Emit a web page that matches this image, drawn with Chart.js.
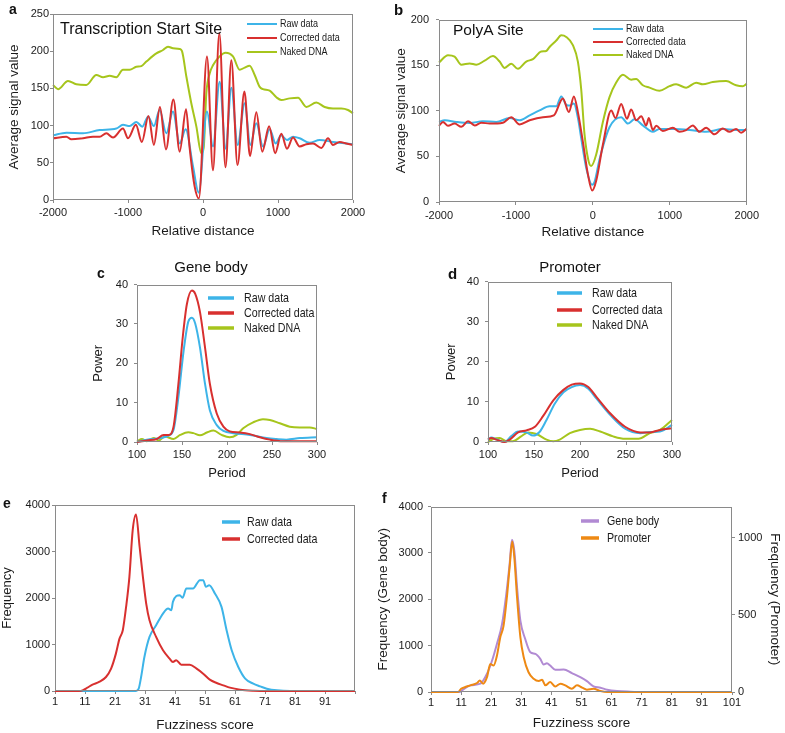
<!DOCTYPE html>
<html><head><meta charset="utf-8">
<script src="https://cdn.jsdelivr.net/npm/chart.js@4.4.0/dist/chart.umd.min.js"></script>
<style>
html,body{margin:0;padding:0;background:#fff;}
body{width:785px;height:733px;position:relative;overflow:hidden;font-family:'Liberation Sans',Arial,sans-serif;}
canvas{position:absolute;}
.t{position:absolute;white-space:nowrap;line-height:1;color:#111;}
</style></head><body>
<script>
// ---------- DATA ----------
// a: Transcription Start Site (relative distance, average signal value)
const tssRaw = [[-2000,87],[-1820,90.5],[-1600,89.6],[-1378,94],[-1156,96],[-1067,101],[-978,99.5],[-889,105],[-809,98.6],[-733,112],[-655,99.5],[-578,121],[-489,89.6],[-400,119],[-311,76],[-231,95],[-133,45],[-58,10],[53,119],[133,72],[222,159],[302,69],[378,151],[462,74],[556,130],[631,74],[711,103],[800,72],[889,95],[969,76],[1040,87],[1120,80.6],[1200,85],[1289,83],[1422,77],[1556,80.6],[1733,78],[2000,75]];
const tssCorr = [[-2000,83],[-1822,85],[-1756,81.5],[-1600,83],[-1467,85],[-1378,85],[-1289,89.6],[-1200,84],[-1067,96],[-1000,83],[-895,101],[-815,78],[-727,113],[-655,74],[-574,125],[-494,68],[-395,135],[-311,65],[-226,122],[-178,70],[-111,18],[-55,2],[53,193],[133,40],[218,224],[300,44],[378,188],[460,47],[552,146],[627,59],[711,118],[790,65],[882,99],[962,63],[1044,89],[1120,69],[1200,84],[1289,72],[1378,75],[1467,76],[1578,70],[1667,83],[1733,74],[1822,78],[1911,76],[2000,74]];
const tssNaked = [[-2000,154.6],[-1933,149],[-1800,160],[-1689,155.5],[-1556,154.6],[-1422,168],[-1333,165],[-1244,167],[-1156,165],[-1067,175],[-978,175],[-889,179],[-822,180],[-756,186],[-622,197],[-533,201.6],[-467,206],[-400,204],[-311,203],[-280,200],[-222,166],[-156,130],[-89,99],[-22,63],[9,70],[44,143],[89,170],[133,181],[222,193],[300,198],[400,193],[489,175],[556,178],[622,180.6],[689,168],[756,152],[800,149],[889,147],[978,138],[1044,134.4],[1156,136.6],[1267,137.5],[1378,125],[1511,131],[1622,125],[1733,123],[1844,123],[1933,121],[2000,116.5]];
// b: PolyA Site
const paRaw = [[-2000,87.8],[-1926,89.6],[-1775,87.8],[-1602,86.7],[-1429,88.5],[-1255,87.8],[-1082,92],[-952,89.6],[-822,95],[-693,100.4],[-563,105],[-476,105],[-411,115.8],[-346,106.5],[-300,105.7],[-247,108],[-190,90],[-152,70],[-87,37.6],[-9,19],[22,22],[87,47],[216,82],[368,93],[455,86],[541,90.7],[649,84],[779,77],[866,80],[1039,80],[1255,79],[1472,77],[1688,80],[1861,79],[2000,79]];
const paCorr = [[-2000,83.5],[-1948,87.8],[-1883,83.5],[-1797,86],[-1710,82.4],[-1623,88.5],[-1537,84],[-1450,87],[-1342,86],[-1169,87],[-1061,93],[-952,85],[-822,89.6],[-649,93],[-507,95],[-390,113.6],[-312,98.6],[-247,115.8],[-195,98.6],[-130,66],[-65,30.5],[-9,12.5],[43,23.3],[130,62.7],[238,100.4],[294,92],[368,107.5],[442,91.4],[498,101.4],[563,89.6],[628,94],[693,84],[727,92],[779,79],[823,83.5],[909,77.8],[1039,81.4],[1126,77],[1212,78.9],[1299,84],[1385,77],[1472,81.4],[1580,74.2],[1688,80.6],[1775,77],[1861,80],[1926,76],[2000,80.6]];
const paNaked = [[-2000,153],[-1883,161],[-1797,159.5],[-1710,150.5],[-1602,152],[-1515,150.5],[-1407,155],[-1299,160],[-1212,154],[-1147,147],[-1061,151.6],[-974,146],[-866,154],[-779,156.6],[-671,165],[-606,165.6],[-563,170],[-476,177],[-411,182.8],[-346,181],[-260,172],[-195,154],[-152,123.7],[-108,73.5],[-56,44.8],[-22,39.4],[43,52],[130,87.8],[216,115],[303,131],[390,139.5],[498,134],[563,135],[649,128],[736,125.4],[866,122],[996,127],[1082,129],[1212,125.4],[1342,130.8],[1429,129],[1558,131.5],[1732,132.6],[1861,128],[1948,127],[2000,129.7]];
// c: Gene body (period, power)
const gbRaw = [[100,0],[111,0.6],[126,1.0],[135,1.6],[140.6,3.1],[146,11.4],[151.7,23],[157,30.6],[161,31.6],[164.6,30.2],[170,24],[175.6,14.75],[181,8],[188.6,4.3],[196,2.8],[207,2.25],[225.5,1.8],[244,1],[255,0.75],[266,0.6],[281,1.0],[300,1.2]];
const gbCorr = [[100,0],[111,0.4],[122,0.75],[129.5,1.8],[135,1.8],[140.6,3.9],[146,14.75],[151,27],[155.4,35],[161,38.5],[164.6,37.7],[170,33],[175.6,24],[181,14.75],[188.6,7.25],[196,3.9],[203,2.7],[214,2.4],[225.5,2],[236.5,1.2],[247.6,0.6],[262,0.2],[281,0.2],[300,0.2]];
const gbNaked = [[100,0.2],[105.5,0.75],[111,0.2],[118.5,1.0],[124,0.4],[131,1.4],[140.6,0.75],[148,1.8],[157,2.5],[162.7,2.25],[170,1.7],[177.5,2.4],[185,2.9],[194,1.8],[203,1.2],[210.7,1.8],[218,3.5],[229,5],[240,5.8],[247.6,5.6],[258.7,4.75],[269.7,3.9],[280.8,3.7],[292,3.7],[300,3.3]];
// d: Promoter
const prRaw = [[100,0.6],[103.6,1.1],[109,0.7],[118,0],[125,1.4],[132.7,2.6],[141.8,2.4],[149,1.6],[156,2.5],[163.6,5.5],[172.7,9.6],[182,12.4],[191,13.7],[200,14.2],[209,13.3],[218,10.8],[233,6.7],[249,3.3],[265.5,2.2],[276,2.5],[287,2.6],[300,4.25]];
const prCorr = [[100,0.6],[103.6,1.0],[109,0.6],[118,0],[123.6,0.6],[132.7,2.4],[141.8,2.9],[151,3.8],[160,6.5],[171,10.4],[182,13],[191,14.3],[200,14.6],[209,13.7],[218,11.2],[233,7.1],[249,3.8],[265.5,2.4],[276,2.4],[287,3.0],[300,3.4]];
const prNaked = [[100,0],[105.5,0.75],[112.7,1.0],[120,0.2],[127,0.2],[136,1.4],[143.6,2.4],[152.7,2],[163.6,0.6],[171,0.2],[178,0.6],[189,2.2],[200,3.0],[211,3.3],[222,2.6],[236,1.4],[249,0.8],[263.6,0.8],[276,2.2],[287,3.0],[300,5.5]];
// e: Fuzziness score histograms
const fzRaw = [[1,0],[28,0],[28.9,50],[29.7,301],[30.8,732],[32.5,1163],[34.7,1414],[37,1666],[38.7,1773],[39.8,1738],[40.3,1917],[42.6,2061],[43.5,2003],[44.8,2204],[47,2204],[49.3,2384],[50.4,2384],[51.3,2240],[52.4,2276],[54.3,2097],[56.5,1809],[58.2,1307],[59.9,876],[62.1,517],[64.4,266],[67.1,158],[69.4,100],[71.6,50],[75,14],[79.4,0],[101,0]];
const fzCorr = [[1,0],[9,0],[10.2,14],[11.8,72],[13.5,136],[15.7,194],[18,301],[19.7,481],[21.3,804],[22.5,1127],[23.6,1307],[24.7,1809],[25.8,2456],[26.9,3460],[28,3798],[29.2,3102],[30.3,2456],[31.4,1881],[32.5,1522],[34.7,1163],[37,876],[39.2,696],[40.3,625],[41.4,660],[43.1,567],[45.9,567],[48.2,481],[50.4,373],[52.6,244],[54.9,172],[57.1,122],[59.3,72],[62.7,29],[67.1,7],[71.6,0],[101,0]];
// f: Gene body (left axis) vs Promoter (right axis)
const fzGeneBody = [[1,0],[10.5,0],[11.3,36],[14.1,143],[17.4,179],[19.6,393],[21.3,679],[22.9,1036],[24.6,1464],[26,2107],[27.1,2750],[27.9,3286],[28.7,3036],[29.6,2250],[30.7,1536],[32.3,1143],[34,857],[35.7,821],[37.3,714],[38.4,593],[39.5,621],[40.6,571],[42.3,479],[45.1,486],[47.8,407],[50.6,321],[52.8,236],[55,121],[57.3,93],[59.5,50],[62.8,21],[67.2,7],[71.7,0],[101,0]];
const fzPromoter = [[1,0],[10,0],[11,21],[12.4,32],[14.1,43],[16.3,58],[17.2,75],[18.3,54],[19.6,96],[20.7,182],[21.8,171],[22.9,235],[24,353],[25.1,428],[26.2,610],[27.1,803],[28,974],[28.7,867],[29.6,610],[30.7,353],[31.8,225],[33.4,128],[35.1,86],[36.8,71],[37.9,79],[39,43],[40.6,64],[42.3,36],[44,54],[45.6,43],[47.8,21],[49.5,43],[51.2,28],[52.8,15],[55,21],[57.3,6],[59.5,0],[101,0]];
// tick values
const distTicks = [-2000,-1000,0,1000,2000];
const tssYTicks = [0,50,100,150,200,250];
const paYTicks = [0,50,100,150,200];
const periodTicks = [100,150,200,250,300];
const powerTicks = [0,10,20,30,40];
const fuzzTicks = [1,11,21,31,41,51,61,71,81,91,101];
const freqTicks = [0,1000,2000,3000,4000];
const promFreqTicks = [0,500,1000];
const seriesNames = ['Raw data','Corrected data','Naked DNA'];

// ---------- STYLE ----------
const BLUE='#3db4e8', RED='#d8302f', GREEN='#a6c51c', PURPLE='#b18ad3', ORANGE='#ee8913', AX='#8a8a8a', TXT='#1a1a1a';
const SANS="'Liberation Sans',Arial,sans-serif";
Chart.defaults.font.family = SANS;
Chart.defaults.color = TXT;

function addText(str, x, baseline, size, opts){
  opts = opts||{};
  const d=document.createElement('div');
  d.className='t'; d.textContent=str;
  d.style.fontSize=size+'px';
  if(opts.bold) d.style.fontWeight='bold';
  d.style.left=x+'px';
  d.style.top=(baseline-0.8465*size)+'px';
  if(opts.center) d.style.transform='translateX(-50%)';
  document.body.appendChild(d);
}

const framePlugin={id:'frame',afterDraw(chart){const a=chart.chartArea,c=chart.ctx;c.save();c.strokeStyle=AX;c.lineWidth=1;c.strokeRect(Math.round(a.left)+0.5,Math.round(a.top)+0.5,Math.round(a.right-a.left)-1,Math.round(a.bottom-a.top)-1);c.restore();}};
const legendPlugin={id:'inLegend',afterDraw(chart,args,o){
  const c=chart.ctx;c.save();c.font=o.font;c.textBaseline='middle';c.lineCap='butt';
  chart.data.datasets.forEach((d,i)=>{const y=o.rows[i]-o.oy;c.strokeStyle=d.borderColor;c.lineWidth=o.lw;c.beginPath();c.moveTo(o.x0-o.ox,y);c.lineTo(o.x1-o.ox,y);c.stroke();
    c.save();c.translate(o.tx-o.ox,y);c.scale(0.82,1);c.fillStyle=TXT;c.fillText(d.label,0,0);c.restore();});
  c.restore();}};

function ds(label,data,color,order,lw,yAxisID){
  const o={label,data,borderColor:color,backgroundColor:color,borderWidth:lw,pointRadius:0,cubicInterpolationMode:'monotone',order,clip:3,fill:false};
  if(yAxisID) o.yAxisID=yAxisID;
  return o;
}
function fixedTicks(vals){return s=>{s.ticks=vals.map(v=>({value:v}));};}

function makePanel(p){
  const left=p.plot.l-p.yW, top=p.plot.t-p.padT;
  const w=p.yW+(p.plot.r-p.plot.l)+(p.rW||0)+p.padR;
  const h=p.padT+(p.plot.b-p.plot.t)+p.xH;
  const cv=document.createElement('canvas');
  cv.width=w;cv.height=h;cv.style.left=left+'px';cv.style.top=top+'px';cv.style.width=w+'px';cv.style.height=h+'px';
  document.body.appendChild(cv);
  const tickFont={family:SANS,size:11};
  const scales={
    x:{type:'linear',position:'bottom',min:p.x.min,max:p.x.max,afterBuildTicks:fixedTicks(p.x.ticks),
      ticks:{font:tickFont,color:TXT,padding:p.x.tpad,maxRotation:0,autoSkip:false,callback:p.x.cb||(v=>String(v))},
      grid:{drawOnChartArea:false,tickLength:3,color:AX},border:{display:false},
      title:{display:true,text:p.x.title,font:{family:SANS,size:p.x.tsize},color:TXT,padding:{top:0,bottom:p.x.tbot}},
      afterFit:s=>{s.height=p.xH;}},
    y:{type:'linear',position:'left',min:p.y.min,max:p.y.max,afterBuildTicks:fixedTicks(p.y.ticks),
      ticks:{font:tickFont,color:TXT,padding:p.y.tpad,callback:v=>String(v)},
      grid:{drawOnChartArea:false,tickLength:3,color:AX},border:{display:false},
      title:{display:true,text:p.y.title,font:{family:SANS,size:p.y.tsize},color:TXT,padding:{top:p.y.ttop,bottom:0}},
      afterFit:s=>{s.width=p.yW;}}
  };
  if(p.y2){
    scales.y2={type:'linear',position:'right',min:p.y2.min,max:p.y2.max,afterBuildTicks:fixedTicks(p.y2.ticks),
      ticks:{font:tickFont,color:TXT,padding:p.y2.tpad,callback:v=>String(v)},
      grid:{drawOnChartArea:false,tickLength:3,color:AX},border:{display:false},
      title:{display:true,text:p.y2.title,font:{family:SANS,size:p.y2.tsize},color:TXT,padding:{top:p.y2.ttop,bottom:0}},
      afterFit:s=>{s.width=p.rW;}};
  }
  const lg=Object.assign({ox:left,oy:top},p.legend);
  new Chart(cv,{type:'line',data:{datasets:p.datasets},
    options:{responsive:false,animation:false,devicePixelRatio:1,events:[],
      layout:{padding:{top:p.padT,right:p.padR,left:0,bottom:0}},
      plugins:{legend:{display:false},tooltip:{enabled:false},inLegend:lg},
      scales},
    plugins:[framePlugin,legendPlugin]});
}

// ---------- PANELS ----------
makePanel({plot:{l:53,t:14,r:353,b:200},yW:53,xH:40,padT:10,padR:16,
  x:{min:-2000,max:2000,ticks:distTicks,tpad:3,title:'Relative distance',tsize:13.5,tbot:1},
  y:{min:0,max:250,ticks:tssYTicks,tpad:1,title:'Average signal value',tsize:13.5,ttop:6},
  datasets:[ds(seriesNames[0],tssRaw,BLUE,1,2),ds(seriesNames[1],tssCorr,RED,0,2),ds(seriesNames[2],tssNaked,GREEN,2,2)],
  legend:{font:"11px "+SANS,lw:2,x0:247,x1:277,tx:280,rows:[24,38,52]}});

makePanel({plot:{l:439,t:16,r:747,b:202},yW:50,xH:38,padT:10,padR:16,
  x:{min:-2000,max:2000,ticks:distTicks,tpad:4,title:'Relative distance',tsize:13.5,tbot:0},
  y:{min:0,max:200,ticks:paYTicks,tpad:7,title:'Average signal value',tsize:13.5,ttop:4},
  datasets:[ds(seriesNames[0],paRaw,BLUE,1,2),ds(seriesNames[1],paCorr,RED,0,2),ds(seriesNames[2],paNaked,GREEN,2,2)],
  legend:{font:"11px "+SANS,lw:2,x0:593,x1:623,tx:626,rows:[29,42,55]}});

makePanel({plot:{l:137,t:282,r:317,b:442},yW:50,xH:40,padT:10,padR:16,
  x:{min:100,max:300,ticks:periodTicks,tpad:3,title:'Period',tsize:13,tbot:1},
  y:{min:0,max:40,ticks:powerTicks,tpad:6,title:'Power',tsize:13,ttop:4},
  datasets:[ds(seriesNames[0],gbRaw,BLUE,1,2),ds(seriesNames[1],gbCorr,RED,0,2),ds(seriesNames[2],gbNaked,GREEN,2,2)],
  legend:{font:"13px "+SANS,lw:3.5,x0:208,x1:234,tx:244,rows:[298,313,328]}});

makePanel({plot:{l:488,t:279,r:672,b:442},yW:50,xH:40,padT:10,padR:16,
  x:{min:100,max:300,ticks:periodTicks,tpad:3,title:'Period',tsize:13,tbot:1},
  y:{min:0,max:40,ticks:powerTicks,tpad:6,title:'Power',tsize:13,ttop:6},
  datasets:[ds(seriesNames[0],prRaw,BLUE,1,2),ds(seriesNames[1],prCorr,RED,0,2),ds(seriesNames[2],prNaked,GREEN,2,2)],
  legend:{font:"13px "+SANS,lw:3.5,x0:557,x1:582,tx:592,rows:[293,310,325]}});

makePanel({plot:{l:55,t:505,r:355,b:691},yW:55,xH:42,padT:10,padR:16,
  x:{min:1,max:101,ticks:fuzzTicks,tpad:1,title:'Fuzziness score',tsize:13.5,tbot:0,cb:v=>v===101?'':String(v)},
  y:{min:0,max:4000,ticks:freqTicks,tpad:2,title:'Frequency',tsize:13,ttop:0},
  datasets:[ds('Raw data',fzRaw,BLUE,1,2),ds('Corrected data',fzCorr,RED,0,2)],
  legend:{font:"13px "+SANS,lw:3.5,x0:222,x1:240,tx:247,rows:[522,539]}});

makePanel({plot:{l:431,t:505,r:732,b:692},yW:59,rW:52,xH:39,padT:10,padR:1,
  x:{min:1,max:101,ticks:fuzzTicks,tpad:1,title:'Fuzziness score',tsize:13.5,tbot:0},
  y:{min:0,max:4000,ticks:freqTicks,tpad:5,title:'Frequency (Gene body)',tsize:13.5,ttop:3},
  y2:{min:0,max:1200,ticks:promFreqTicks,tpad:3,title:'Frequency (Promoter)',tsize:13.5,ttop:1},
  datasets:[ds('Gene body',fzGeneBody,PURPLE,1,2,'y'),ds('Promoter',fzPromoter,ORANGE,0,2,'y2')],
  legend:{font:"13px "+SANS,lw:3.5,x0:581,x1:599,tx:607,rows:[521,538]}});

// ---------- TEXT LABELS ----------
addText('a',9,14,14,{bold:true});
addText('b',394,15,15,{bold:true});
addText('c',97,278,14,{bold:true});
addText('d',448,279,15,{bold:true});
addText('e',3,508,14,{bold:true});
addText('f',382,503,14,{bold:true});
addText('Transcription Start Site',60,35,16);
addText('PolyA Site',453,35,15.5);
addText('Gene body',211,272,15,{center:true});
addText('Promoter',570,272,15,{center:true});
</script>
</body></html>
